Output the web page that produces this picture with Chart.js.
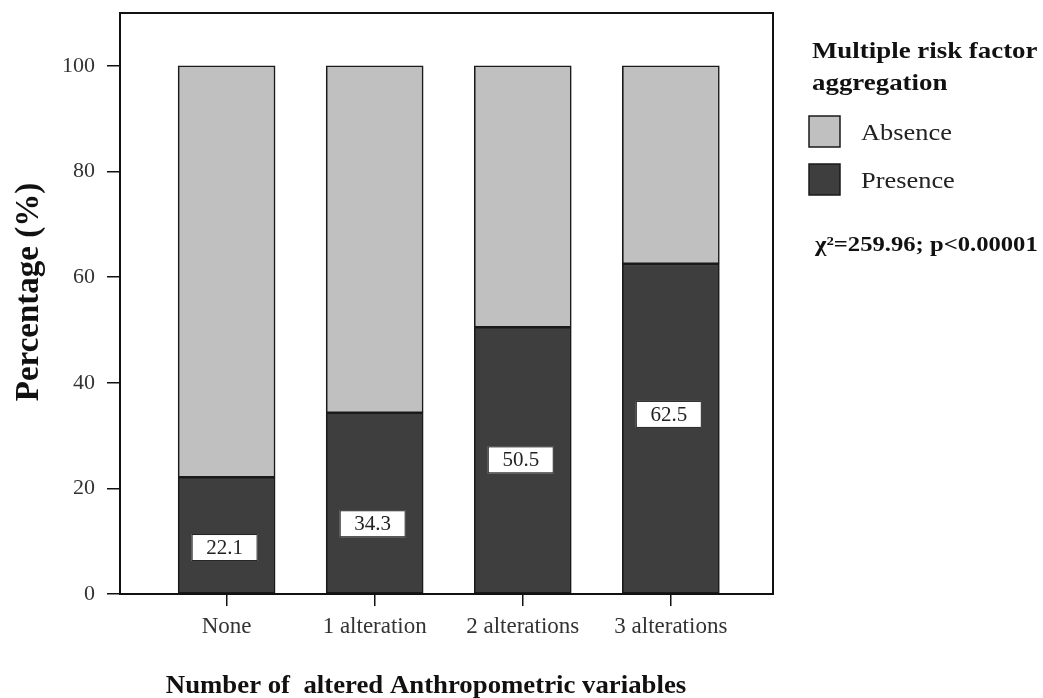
<!DOCTYPE html>
<html>
<head>
<meta charset="utf-8">
<title>Multiple risk factor aggregation by altered anthropometric variables</title>
<script src="https://cdn.jsdelivr.net/npm/chart.js@4.4.1/dist/chart.umd.min.js"></script>
<style>
  html, body { margin: 0; padding: 0; background: #ffffff; }
  #wrap { width: 1043px; height: 698px; }
</style>
</head>
<body>
<div id="wrap"><canvas id="chart" width="1043" height="698"></canvas></div>
<script>
// Categories and series values
const categories = ['None', '1 alteration', '2 alterations', '3 alterations'];
const presence = [22.1, 34.3, 50.5, 62.5];
const absence = [77.9, 65.7, 49.5, 37.5];
const yTicks = [0, 20, 40, 60, 80, 100];
const seriesNames = ['Presence', 'Absence'];
const legendTitle = ['Multiple risk factor', 'aggregation'];
const statText = 'χ²=259.96; p<0.00001';
const xTitle = 'Number of  altered Anthropometric variables';
const yTitle = 'Percentage (%)';

const SERIF = '"Liberation Serif", "Times New Roman", serif';
const DARK = '#3e3e3e';
const LIGHT = '#c0c0c0';
const EDGE = '#1a1a1a';

// Text helper with optional horizontal stretch
function drawText(ctx, text, x, y, font, color, align, sx) {
  ctx.save();
  ctx.font = font;
  ctx.fillStyle = color;
  ctx.textAlign = align || 'left';
  ctx.textBaseline = 'alphabetic';
  ctx.translate(x, y);
  ctx.scale(sx || 1, 1);
  ctx.fillText(text, 0, 0);
  ctx.restore();
}

// Frame, value boxes, axis titles and legend
const decorations = {
  id: 'decorations',
  afterDatasetsDraw(chart, args, opts) {
    const ctx = chart.ctx;
    const yScale = chart.scales.y;

    // value boxes inside the Presence segments
    const meta = chart.getDatasetMeta(0);
    meta.data.forEach((bar, i) => {
      const cy = yScale.getPixelForValue(opts.labelLevels[i]);
      const w = 66, h = 27;
      const cx = bar.x - 2;
      ctx.save();
      ctx.fillStyle = '#ffffff';
      ctx.strokeStyle = '#222';
      ctx.lineWidth = 1;
      ctx.fillRect(cx - w / 2, cy - h / 2, w, h);
      ctx.strokeRect(cx - w / 2 + 0.5, cy - h / 2 + 0.5, w - 1, h - 1);
      ctx.font = '21px ' + SERIF;
      ctx.fillStyle = '#222';
      ctx.textAlign = 'center';
      ctx.textBaseline = 'middle';
      ctx.fillText(presence[i].toFixed(1), cx, cy + 1);
      ctx.restore();
    });
  },
  afterDraw(chart) {
    const ctx = chart.ctx;
    const area = chart.chartArea;

    // plot frame
    ctx.save();
    ctx.strokeStyle = '#111';
    ctx.lineWidth = 2;
    ctx.strokeRect(area.left, area.top, area.right - area.left, area.bottom - area.top);
    ctx.restore();

    // y axis title
    ctx.save();
    ctx.translate(38, 292);
    ctx.rotate(-Math.PI / 2);
    ctx.font = 'bold 33px ' + SERIF;
    ctx.fillStyle = '#111';
    ctx.textAlign = 'center';
    ctx.textBaseline = 'alphabetic';
    ctx.fillText(yTitle, 0, 0);
    ctx.restore();

    // x axis title
    drawText(ctx, xTitle, 426, 693, 'bold 26px ' + SERIF, '#111', 'center', 1.03);

    // legend
    const lx = 812;
    drawText(ctx, legendTitle[0], lx, 58, 'bold 24px ' + SERIF, '#111', 'left', 1.12);
    drawText(ctx, legendTitle[1], lx, 90, 'bold 24px ' + SERIF, '#111', 'left', 1.12);
    const order = [1, 0];
    order.forEach((di, k) => {
      const ds = chart.data.datasets[di];
      const top = 116 + k * 48;
      ctx.save();
      ctx.fillStyle = ds.backgroundColor;
      ctx.fillRect(809, top, 31, 31);
      ctx.strokeStyle = EDGE;
      ctx.lineWidth = 1.5;
      ctx.strokeRect(809, top, 31, 31);
      ctx.restore();
      drawText(ctx, ds.label, 861, top + 24, '24px ' + SERIF, '#222', 'left', 1.1);
    });

    // test statistic
    drawText(ctx, statText, 815, 251, 'bold 22px ' + SERIF, '#111', 'left', 1.12);
  }
};

const toPoints = arr => arr.map((v, i) => ({ x: i, y: v }));

new Chart(document.getElementById('chart'), {
  type: 'bar',
  data: {
    datasets: [
      {
        label: seriesNames[0],
        data: toPoints(presence),
        backgroundColor: DARK,
        borderColor: EDGE,
        borderWidth: 1.6,
        borderSkipped: false,
        barThickness: 97
      },
      {
        label: seriesNames[1],
        data: toPoints(absence),
        backgroundColor: LIGHT,
        borderColor: EDGE,
        borderWidth: 1.6,
        borderSkipped: false,
        barThickness: 97
      }
    ]
  },
  options: {
    responsive: false,
    animation: false,
    devicePixelRatio: 1,
    layout: { padding: { left: 0, right: 270, top: 13, bottom: 0 } },
    plugins: {
      legend: { display: false },
      tooltip: { enabled: false },
      decorations: { labelLevels: [8.8, 13.3, 25.4, 34.0] }
    },
    scales: {
      x: {
        type: 'linear',
        stacked: true,
        offset: false,
        min: -0.72,
        max: 3.69,
        afterBuildTicks: s => { s.ticks = categories.map((c, i) => ({ value: i })); },
        afterFit: s => { s.height = 104; s.paddingLeft = 0; s.paddingRight = 0; },
        border: { display: false },
        grid: {
          offset: false,
          drawOnChartArea: false,
          drawTicks: true,
          tickLength: 12,
          color: '#111',
          lineWidth: 1.5
        },
        ticks: {
          autoSkip: false,
          maxRotation: 0,
          padding: 7,
          color: '#333',
          font: { family: SERIF, size: 23 },
          callback: v => categories[v]
        }
      },
      y: {
        stacked: true,
        min: 0,
        max: 110,
        afterBuildTicks: s => { s.ticks = yTicks.map(v => ({ value: v })); },
        afterFit: s => { s.width = 120; s.paddingTop = 0; s.paddingBottom = 0; },
        border: { display: false },
        grid: {
          drawOnChartArea: false,
          drawTicks: true,
          tickLength: 13,
          color: '#111',
          lineWidth: 1.5
        },
        ticks: {
          padding: 12,
          color: '#333',
          font: { family: SERIF, size: 22 }
        }
      }
    }
  },
  plugins: [decorations]
});
</script>
</body>
</html>
